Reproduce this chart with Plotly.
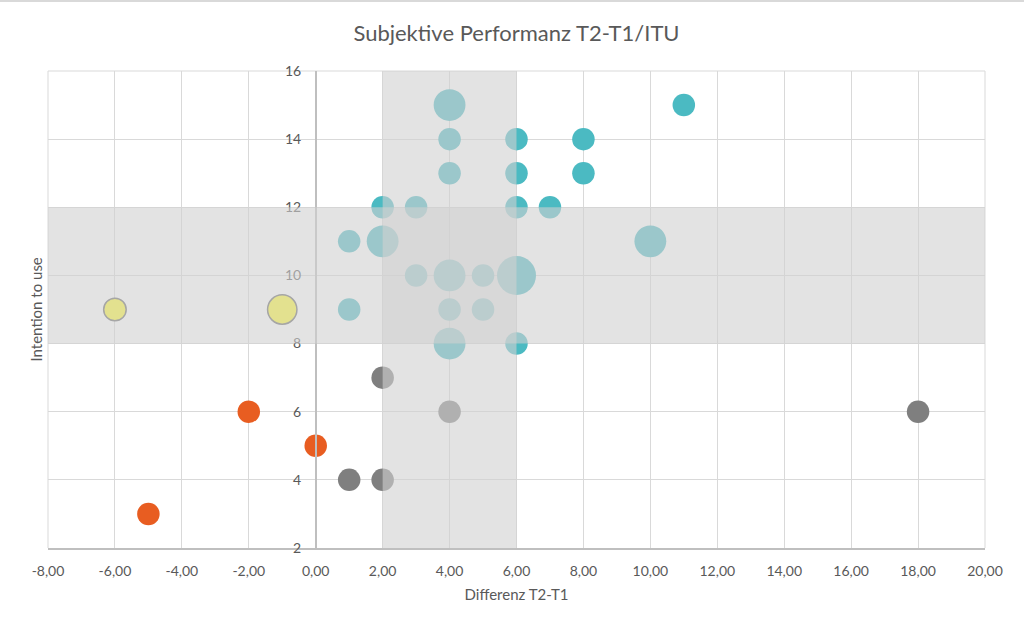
import plotly.graph_objects as go

# ---- data ----
teal_x = [4, 11, 4, 6, 8, 4, 6, 8, 2, 3, 6, 7, 1, 2, 10, 3, 4, 5, 6, 1, 4, 5, 4, 6]
teal_y = [15, 15, 14, 14, 14, 13, 13, 13, 12, 12, 12, 12, 11, 11, 11, 10, 10, 10, 10, 9, 9, 9, 8, 8]
teal_s = [2, 1, 1, 1, 1, 1, 1, 1, 1, 1, 1, 1, 1, 2, 2, 1, 2, 1, 3, 1, 1, 1, 2, 1]

gray_x = [2, 4, 1, 2, 18]
gray_y = [7, 6, 4, 4, 6]
gray_s = [1, 1, 1, 1, 1]

orange_x = [-2, 0, -5]
orange_y = [6, 5, 3]
orange_s = [1, 1, 1]

yellow_x = [-6, -1]
yellow_y = [9, 9]
yellow_s = [1, 1.7]

x_tick_vals = [-8, -6, -4, -2, 0, 2, 4, 6, 8, 10, 12, 14, 16, 18, 20]
x_tick_text = ["-8,00", "-6,00", "-4,00", "-2,00", "0,00", "2,00", "4,00", "6,00",
               "8,00", "10,00", "12,00", "14,00", "16,00", "18,00", "20,00"]
y_tick_vals = [2, 4, 6, 8, 10, 12, 14, 16]

band_x = [2, 6]
band_y = [8, 12]

title_text = "Subjektive Performanz T2-T1/ITU"
x_title = "Differenz T2-T1"
y_title = "Intention to use"

# ---- figure ----
FONT = "Lato"
TXT = "#595959"
SIZEREF = 2 * 3 / 39 ** 2
X_MIN, X_MAX = -8, 20

fig = go.Figure()

def bubble(x, y, s, color, line_color=None, line_width=0):
    fig.add_trace(go.Scatter(
        x=x, y=y, mode="markers",
        marker=dict(size=s, sizemode="area", sizeref=SIZEREF, color=color,
                    opacity=1,
                    line=dict(color=line_color or color, width=line_width)),
        showlegend=False, hoverinfo="x+y",
    ))

bubble(teal_x, teal_y, teal_s, "#4bbac2")
bubble(gray_x, gray_y, gray_s, "#7f7f7f")
bubble(orange_x, orange_y, orange_s, "#e85d21")
bubble(yellow_x, yellow_y, yellow_s, "rgb(255,250,45)", "#666666", 1.5)

band_fill = "rgba(209,209,209,0.6)"
fig.add_shape(type="rect", xref="x", yref="paper", x0=band_x[0], x1=band_x[1], y0=0, y1=1,
              fillcolor=band_fill, line=dict(width=0), layer="above")
fig.add_shape(type="rect", xref="paper", yref="paper", x0=0, x1=1,
              y0=(band_y[0] - 2) / 14, y1=(band_y[1] - 2) / 14,
              fillcolor=band_fill, line=dict(width=0), layer="above")
# outer chart border (top edge visible)
fig.add_shape(type="line", xref="paper", yref="paper", x0=-0.06, x1=1.05,
              y0=1 + 70 / 477, y1=1 + 70 / 477,
              line=dict(color="#d9d9d9", width=2), layer="above")
# right / top / left plot edges
for (x0, x1, y0, y1) in [(1, 1, 0, 1), (0, 1, 1, 1), (0, 0, 0, 1)]:
    fig.add_shape(type="line", xref="paper", yref="paper", x0=x0, x1=x1, y0=y0, y1=y1,
                  line=dict(color="#d9d9d9", width=1), layer="below")

fig.update_layout(
    width=1024, height=632,
    margin=dict(l=48, r=39, t=71, b=84),
    paper_bgcolor="white", plot_bgcolor="white",
    font=dict(family=FONT, color=TXT, size=14),
    title=dict(text=title_text, x=0.5, xref="paper", xanchor="center",
               y=1 - 33 / 632, yref="container", yanchor="middle",
               font=dict(family=FONT, size=22, color=TXT)),
    xaxis=dict(range=[X_MIN, X_MAX], tickvals=x_tick_vals, ticktext=x_tick_text,
               showgrid=True, gridcolor="#d9d9d9", gridwidth=1,
               zeroline=False, showline=True, linecolor="#bfbfbf", linewidth=1.5,
               mirror=False, ticks="", ticklabelstandoff=9,
               tickfont=dict(size=14, color=TXT),
               title=dict(text=x_title, font=dict(size=15, color=TXT), standoff=12),
               fixedrange=True),
    yaxis=dict(range=[2, 16], tickvals=y_tick_vals,
               anchor="free", position=(0 - X_MIN) / (X_MAX - X_MIN),
               showgrid=True, gridcolor="#d9d9d9", gridwidth=1,
               zeroline=False, showline=True, linecolor="#bfbfbf", linewidth=1.5,
               ticks="", ticklabelstandoff=11, tickfont=dict(size=14, color=TXT),
               fixedrange=True),
    annotations=[dict(text=y_title, xref="paper", yref="paper", x=(35 - 48) / 937, y=0.5,
                      xanchor="center", yanchor="middle", textangle=-90, showarrow=False,
                      font=dict(family=FONT, size=15, color=TXT))],
)

fig.write_html("out.html", config={"displayModeBar": False},
               post_script="document.body.style.margin='0';document.body.style.padding='0';")
